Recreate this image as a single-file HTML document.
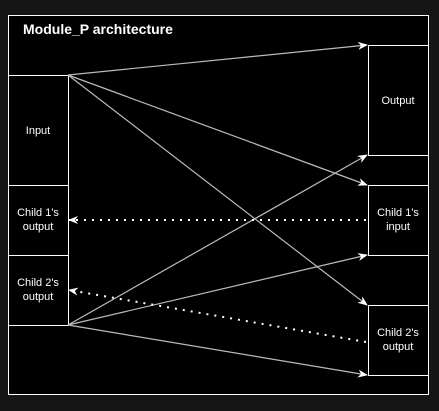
<!DOCTYPE html>
<html><head><meta charset="utf-8"><style>
html,body{margin:0;padding:0;background:#151515;}
svg{display:block;font-family:"Liberation Sans",sans-serif;}
</style></head><body>
<svg width="439" height="411" viewBox="0 0 439 411">
<defs>
<marker id="ah" markerWidth="10" markerHeight="8" refX="9" refY="4" orient="auto" markerUnits="userSpaceOnUse">
<path d="M0,0 L10,4 L0,8 L3,4 Z" fill="#fff"/></marker>
</defs>
<rect x="8.5" y="15.5" width="420" height="379" fill="#000" stroke="#fff"/>
<text x="23" y="34" fill="#fff" font-size="14" font-weight="bold">Module_P architecture</text>
<g stroke="#fff" fill="#000">
<rect x="8.5" y="75.5" width="60" height="110"/>
<rect x="8.5" y="185.5" width="60" height="70"/>
<rect x="8.5" y="255.5" width="60" height="70"/>
<rect x="368.5" y="45.5" width="60" height="110"/>
<rect x="368.5" y="185.5" width="60" height="70"/>
<rect x="368.5" y="305.5" width="60" height="70"/>
</g>
<g fill="#fff" font-size="11" text-anchor="middle">
<text x="38" y="134">Input</text>
<text x="38" y="216">Child 1's</text>
<text x="38" y="230">output</text>
<text x="38" y="286">Child 2's</text>
<text x="38" y="300">output</text>
<text x="398" y="104">Output</text>
<text x="398" y="216">Child 1's</text>
<text x="398" y="230">input</text>
<text x="398" y="336">Child 2's</text>
<text x="398" y="350">output</text>
</g>
<g stroke="#bbb" stroke-width="1.2" fill="none" marker-end="url(#ah)">
<line x1="68" y1="75" x2="367" y2="45"/>
<line x1="68" y1="75" x2="367" y2="185"/>
<line x1="68" y1="75" x2="367" y2="305"/>
<line x1="68" y1="325" x2="367" y2="155"/>
<line x1="68" y1="325" x2="367" y2="255"/>
<line x1="68" y1="325" x2="367" y2="375"/>
</g>
<g stroke="#fff" stroke-width="2" stroke-dasharray="2 6" fill="none" marker-end="url(#ah)">
<line x1="366" y1="220" x2="69" y2="220"/>
<line x1="366" y1="342" x2="69" y2="290"/>
</g>
</svg>
</body></html>
